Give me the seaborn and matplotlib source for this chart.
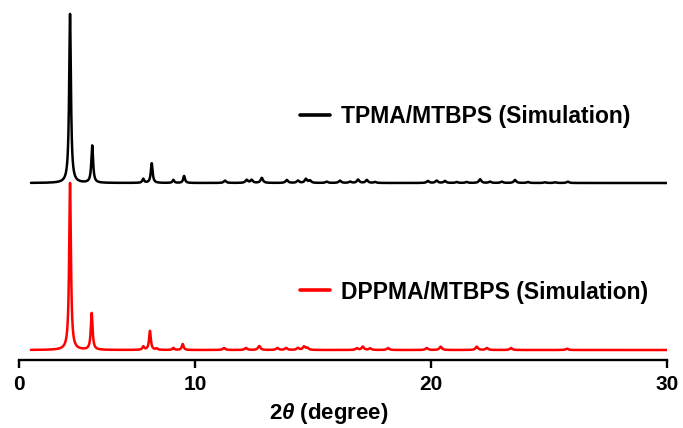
import numpy as np
import pandas as pd
import matplotlib
matplotlib.use("Agg")
import matplotlib.pyplot as plt
import seaborn as sns

# ---- data (peak lists; 2-theta in degrees, relative intensity) ----
tpma_pos = [2.90, 4.16, 7.06, 7.54, 8.77, 9.38, 11.27, 12.19, 12.40, 12.83, 13.89, 14.36,
            14.70, 14.87, 15.58, 16.14, 16.57, 16.91, 17.28, 17.63, 19.87, 20.24, 20.59,
            21.09, 21.51, 22.08, 22.50, 23.00, 23.56, 24.11, 24.83, 25.25, 25.80]
tpma_int = [1.012, 0.223, 0.024, 0.118, 0.018, 0.042, 0.014, 0.018, 0.018, 0.030, 0.018, 0.014,
            0.024, 0.014, 0.008, 0.014, 0.008, 0.020, 0.018, 0.006, 0.012, 0.014, 0.012,
            0.006, 0.006, 0.022, 0.008, 0.008, 0.018, 0.006, 0.004, 0.004, 0.008]

dppma_pos = [2.90, 4.13, 7.06, 7.44, 7.82, 8.77, 9.30, 11.23, 12.16, 12.72, 13.49, 13.86,
             14.36, 14.62, 14.76, 16.86, 17.11, 17.42, 18.18, 19.82, 20.41, 21.94, 22.37,
             23.39, 25.76]
dppma_int = [1.000, 0.220, 0.020, 0.114, 0.008, 0.012, 0.036, 0.012, 0.012, 0.024, 0.012, 0.012,
             0.012, 0.020, 0.012, 0.010, 0.020, 0.010, 0.012, 0.012, 0.020, 0.020, 0.012,
             0.012, 0.008]

labels = ["TPMA/MTBPS (Simulation)", "DPPMA/MTBPS (Simulation)"]
offsets = [1.0, 0.0]
colors = ["#000000", "#FF0000"]
x_start, x_end = 0.68, 30.0
fwhm = 0.12

xticks = [0, 10, 20, 30]
xtick_labels = ["0", "10", "20", "30"]


def profile(x, pos, inten):
    y = np.zeros_like(x)
    for c, h in zip(pos, inten):
        y += h / (1.0 + ((x - c) / (fwhm / 2.0)) ** 2)
    return y


grid = np.arange(x_start, x_end + 1e-9, 0.004)
frames = []
for lab, off, pos, inten in zip(labels, offsets,
                                [tpma_pos, dppma_pos], [tpma_int, dppma_int]):
    frames.append(pd.DataFrame({"2theta": grid,
                                "y": profile(grid, pos, inten) + off,
                                "sample": lab}))
df = pd.concat(frames, ignore_index=True)

# ---- style ----
sns.set_style("ticks")
plt.rcParams["font.family"] = ["Liberation Sans", "DejaVu Sans"]
plt.rcParams["mathtext.fontset"] = "custom"
plt.rcParams["mathtext.rm"] = "Liberation Sans:bold"
plt.rcParams["mathtext.it"] = "Liberation Sans:italic:bold"
plt.rcParams["mathtext.bf"] = "Liberation Sans:bold"
plt.rcParams["text.color"] = "black"
plt.rcParams["axes.labelcolor"] = "black"
plt.rcParams["xtick.color"] = "black"
plt.rcParams["axes.edgecolor"] = "black"

fig = plt.figure(figsize=(6.83, 4.28), dpi=100)
ax = fig.add_axes([19 / 683, 68 / 428, (667 - 19) / 683, (418 - 68) / 428])

sns.lineplot(data=df, x="2theta", y="y", hue="sample", palette=colors,
             hue_order=labels, estimator=None, sort=False, linewidth=1.8,
             ax=ax, legend=False)

# piecewise axis (0-10 segment compressed, as in the reference)
ratio = 17.6 / 23.6


def fwd(x):
    x = np.asarray(x, dtype=float)
    return np.where(x < 10, 10 - (10 - x) * ratio, x)


def inv(u):
    u = np.asarray(u, dtype=float)
    return np.where(u < 10, 10 - (10 - u) / ratio, u)


ax.set_xscale("function", functions=(fwd, inv))
ax.set_xlim(0, 30)
ax.set_ylim(-10 / 167, 340 / 167)
ax.set_xticks(xticks)
ax.set_xticklabels(xtick_labels, fontsize=15, fontweight="bold", color="black")
ax.minorticks_off()
ax.set_yticks([])
ax.set_ylabel("")
ax.set_xlabel(r"2$\it{\theta}$ (degree)", fontsize=16, fontweight="bold", color="black")
ax.xaxis.set_label_coords(310 / 648, -41 / 350, transform=ax.transAxes)
for s in ["left", "top", "right"]:
    ax.spines[s].set_visible(False)
ax.spines["bottom"].set_linewidth(1.7)
ax.spines["bottom"].set_color("black")
ax.tick_params(axis="x", width=1.7, length=5.5, pad=5, direction="out", colors="black")

# legends
lines = ax.get_lines()
for line, lab, ypix in zip(lines[:2], labels, [117, 292]):
    fig.legend([plt.Line2D([], [], color=line.get_color(), linewidth=2.6)], [lab],
               loc="center left", bbox_to_anchor=(300 / 683, (428 - ypix) / 428),
               bbox_transform=fig.transFigure, frameon=False, borderpad=0,
               borderaxespad=0, handlelength=1.3, handletextpad=0.5,
               labelcolor="black",
               prop={"weight": "bold", "size": 16.5})

fig.savefig("out.png", dpi=100)
